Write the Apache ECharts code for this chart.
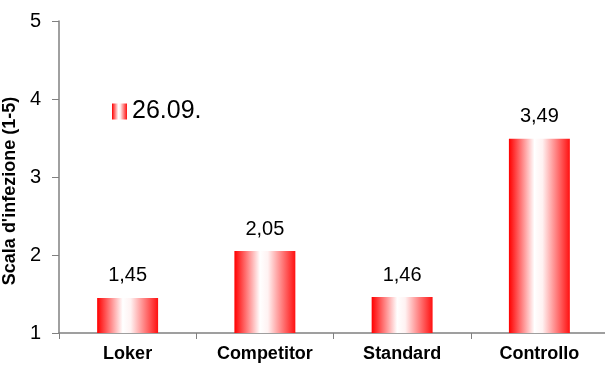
<!DOCTYPE html>
<html>
<head>
<meta charset="utf-8">
<script src="https://cdn.jsdelivr.net/npm/echarts@6/dist/echarts.min.js"></script>
<style>
  html, body { margin: 0; padding: 0; background: #fff; overflow: hidden; }
  #chart { width: 605px; height: 365px; }
</style>
</head>
<body>
<div id="chart"></div>
<script>
// Infection scores per treatment
const categories = ['Loker', 'Competitor', 'Standard', 'Controllo'];
const values = [1.45, 2.05, 1.46, 3.49];
const seriesName = '26.09.';
const yTicks = [1, 2, 3, 4, 5];

const barGradient = new echarts.graphic.LinearGradient(0, 0, 1, 0, [
  { offset: 0, color: '#ff0000' },
  { offset: 0.42, color: '#ffffff' },
  { offset: 0.55, color: '#fff2f2' },
  { offset: 1, color: '#ff1010' }
]);

const chart = echarts.init(document.getElementById('chart'));
chart.setOption({
  animation: false,
  backgroundColor: '#ffffff',
  textStyle: { fontFamily: 'Liberation Sans, Arial, sans-serif' },
  grid: {
    left: 59, right: -3, top: 21, bottom: 32,
    containLabel: false,
    outerBoundsMode: 'none'
  },
  legend: {
    left: 112, top: 99,
    padding: 0,
    itemWidth: 15, itemHeight: 16, itemGap: 4,
    icon: 'rect',
    textStyle: { fontSize: 25, color: '#000' },
    data: [seriesName]
  },
  xAxis: {
    type: 'category',
    data: categories,
    axisLine: { lineStyle: { color: '#808080', width: 1.5 } },
    axisTick: { show: true, length: 6, lineStyle: { color: '#808080' } },
    axisLabel: { fontSize: 18, fontWeight: 'bold', color: '#000', margin: 12 }
  },
  yAxis: {
    type: 'value',
    min: yTicks[0], max: yTicks[yTicks.length - 1], interval: 1,
    name: "Scala d'infezione (1-5)",
    nameLocation: 'middle',
    nameGap: 33,
    nameTextStyle: { fontSize: 18, fontWeight: 'bold', color: '#000', padding: [0, 28, 0, 0] },
    axisLine: { show: true, lineStyle: { color: '#808080', width: 1.5 } },
    axisTick: { show: true, length: 7, lineStyle: { color: '#808080' } },
    axisLabel: { fontSize: 20, color: '#000', margin: 18 },
    splitLine: { show: false }
  },
  series: [{
    name: seriesName,
    type: 'bar',
    data: values,
    barWidth: '44.4%',
    itemStyle: { color: barGradient },
    label: {
      show: true,
      position: 'top',
      distance: 12,
      fontSize: 20,
      color: '#000',
      formatter: p => p.value.toFixed(2).replace('.', ',')
    }
  }]
});
</script>
</body>
</html>
